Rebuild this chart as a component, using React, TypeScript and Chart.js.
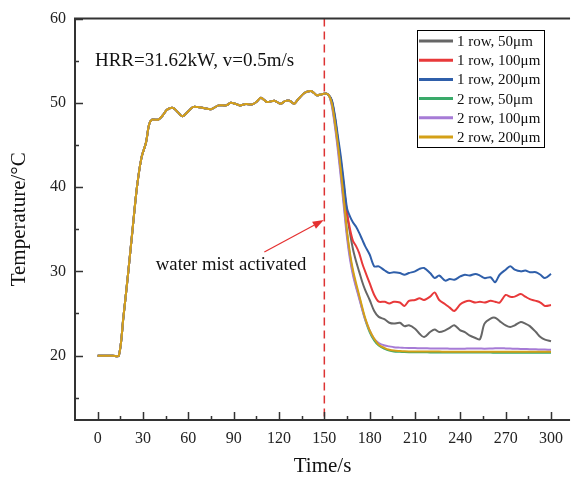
import React, { useEffect, useRef } from 'react';
import { Chart, registerables } from 'chart.js';

Chart.register(...registerables);

// Shared curve before water mist activation (all six series coincide)
const preTimes = [0, 5, 10, 14, 17, 20, 23, 26, 29, 32, 34, 36, 40, 43, 46, 50, 53, 56, 60, 63, 66, 70, 75, 80, 85, 88, 91, 94, 98, 102, 105, 108, 112, 117, 121, 124, 127, 130, 133, 137, 141, 143, 145, 148, 151, 153];
const preTemps = [20, 20, 20, 20, 24.5, 29.5, 34.8, 40, 43.5, 45.3, 47.4, 48, 48, 48.5, 49.2, 49.4, 48.9, 48.4, 49, 49.5, 49.5, 49.4, 49.25, 49.7, 49.7, 50, 49.9, 49.7, 49.85, 49.8, 50.1, 50.6, 50.1, 50.25, 49.9, 50.2, 50.25, 49.9, 50.5, 51.2, 51.4, 51.2, 50.9, 51.0, 51.1, 50.9];

// After activation
const postTimes = [155, 157, 159, 161, 163, 165, 167, 169, 171, 173, 175, 177, 180, 183, 186, 190, 193, 196, 200, 203, 206, 210, 213, 216, 220, 223, 226, 230, 233, 236, 240, 243, 246, 250, 253, 256, 260, 263, 266, 270, 273, 276, 280, 283, 286, 290, 293, 296, 300];

const row1um50 = [50.2, 48.2, 45.5, 42.8, 39.8, 36.8, 34.5, 32.6, 31.2, 30.0, 28.8, 27.8, 26.6, 25.3, 24.6, 24.3, 23.9, 23.8, 23.9, 23.5, 23.6, 23.2, 22.6, 22.2, 22.8, 23.1, 22.8, 23.0, 23.3, 23.6, 23.0, 22.8, 22.4, 22.1, 21.95, 23.8, 24.4, 24.5, 24.1, 23.6, 23.4, 23.6, 24.0, 23.8, 23.5, 22.8, 22.2, 21.9, 21.7];
const row1um100 = [50.2, 48.2, 45.5, 43, 40, 37, 35, 33.6, 33, 32.2, 31, 30, 28.6, 27.2, 26.4, 26.4, 26.2, 26.4, 26.3, 25.9, 26.5, 26.6, 26.8, 26.6, 27.0, 27.5, 26.6, 26.1, 25.7, 25.3, 26.1, 26.4, 26.5, 26.3, 26.4, 26.3, 26.5, 26.4, 26.3, 27.2, 27.0, 27.0, 27.3, 27.0, 26.7, 26.5, 26.3, 25.9, 26.0];
const row1um200 = [50.3, 48.5, 46, 43.5, 40.5, 37.5, 36.5, 35.8, 35.3, 34.6, 33.8, 33, 32, 30.6, 30.6, 30.1, 29.8, 29.9, 29.8, 29.6, 29.8, 30.0, 30.3, 30.4, 29.8, 29.2, 29.5, 28.9, 29.1, 29.0, 29.4, 29.6, 29.5, 29.7, 29.5, 29.2, 29.3, 28.7, 29.6, 30.2, 30.6, 30.2, 30.0, 30.1, 29.9, 29.9, 29.6, 29.2, 29.7];
const row2um50 = [49.8, 47.5, 44.8, 41.5, 38, 34.5, 31.8, 29.8, 28.3, 27, 25.6, 24.3, 22.8, 21.8, 21.2, 20.8, 20.6, 20.5, 20.45, 20.42, 20.4, 20.4, 20.4, 20.4, 20.38, 20.38, 20.38, 20.38, 20.37, 20.37, 20.37, 20.36, 20.36, 20.36, 20.36, 20.36, 20.36, 20.35, 20.35, 20.35, 20.35, 20.35, 20.35, 20.35, 20.35, 20.35, 20.35, 20.35, 20.35];
const row2um100 = [49.6, 47.2, 44.3, 41, 37.5, 34, 31.4, 29.5, 28.1, 26.8, 25.5, 24.3, 23, 22, 21.5, 21.2, 21.1, 21.0, 20.95, 20.92, 20.9, 20.9, 20.88, 20.87, 20.86, 20.85, 20.85, 20.84, 20.83, 20.82, 20.82, 20.83, 20.85, 20.85, 20.84, 20.83, 20.85, 20.87, 20.88, 20.86, 20.84, 20.82, 20.8, 20.78, 20.76, 20.75, 20.73, 20.72, 20.7];
const row2um200 = [49.9, 47.7, 45, 41.8, 38.3, 34.8, 32.1, 30.1, 28.6, 27.2, 25.8, 24.5, 23, 22, 21.3, 20.9, 20.7, 20.6, 20.55, 20.52, 20.5, 20.5, 20.5, 20.5, 20.48, 20.48, 20.48, 20.47, 20.47, 20.47, 20.47, 20.46, 20.46, 20.46, 20.46, 20.46, 20.46, 20.46, 20.46, 20.46, 20.45, 20.45, 20.45, 20.45, 20.45, 20.45, 20.45, 20.45, 20.45];

const seriesLabels = ['1 row, 50μm', '1 row, 100μm', '1 row, 200μm', '2 row, 50μm', '2 row, 100μm', '2 row, 200μm'];
const seriesValues = [row1um50, row1um100, row1um200, row2um50, row2um100, row2um200];
const seriesColors = ['#666666', '#e8393a', '#2f5faa', '#3aaa6a', '#a67bd6', '#d4a017'];

const xTicks = [0, 30, 60, 90, 120, 150, 180, 210, 240, 270, 300];
const xMinorTicks = [15, 45, 75, 105, 135, 165, 195, 225, 255, 285];
const yTicks = [20, 30, 40, 50, 60];
const yMinorTicks = [15, 25, 35, 45, 55];

const activationTime = 150;
const arrowFrom = { x: 110.3, y: 32.3 };
const arrowTo = { x: 149.6, y: 36.1 };
const arrowText = { x: 38.5, y: 30.8, text: 'water mist activated' };
const infoText = { x: -1.8, y: 55.0, text: 'HRR=31.62kW, v=0.5m/s' };

const SERIF = '"Liberation Serif", "DejaVu Serif", serif';

const decorPlugin = {
  id: 'decor',
  afterDatasetsDraw(chart: any) {
    const { ctx, chartArea: ca, scales } = chart;
    const x = scales.x;
    const y = scales.y;
    ctx.save();
    // dashed activation line
    const xa = x.getPixelForValue(activationTime);
    ctx.strokeStyle = '#dd3333';
    ctx.lineWidth = 1.5;
    ctx.setLineDash([8, 5]);
    ctx.beginPath();
    ctx.moveTo(xa, ca.top);
    ctx.lineTo(xa, ca.bottom);
    ctx.stroke();
    ctx.setLineDash([]);

    // arrow
    const x1 = x.getPixelForValue(arrowFrom.x), y1 = y.getPixelForValue(arrowFrom.y);
    const x2 = x.getPixelForValue(arrowTo.x), y2 = y.getPixelForValue(arrowTo.y);
    const ang = Math.atan2(y2 - y1, x2 - x1);
    const hl = 11, hw = 4;
    const bx = x2 - hl * Math.cos(ang), by = y2 - hl * Math.sin(ang);
    ctx.strokeStyle = '#e53030';
    ctx.fillStyle = '#e53030';
    ctx.lineWidth = 1.2;
    ctx.beginPath();
    ctx.moveTo(x1, y1);
    ctx.lineTo(bx, by);
    ctx.stroke();
    ctx.beginPath();
    ctx.moveTo(x2, y2);
    ctx.lineTo(bx + hw * Math.sin(ang), by - hw * Math.cos(ang));
    ctx.lineTo(bx - hw * Math.sin(ang), by + hw * Math.cos(ang));
    ctx.closePath();
    ctx.fill();

    // texts
    ctx.fillStyle = '#111';
    ctx.textBaseline = 'middle';
    ctx.textAlign = 'left';
    ctx.font = `18.7px ${SERIF}`;
    ctx.fillText(arrowText.text, x.getPixelForValue(arrowText.x), y.getPixelForValue(arrowText.y));
    ctx.font = `19px ${SERIF}`;
    ctx.fillText(infoText.text, x.getPixelForValue(infoText.x), y.getPixelForValue(infoText.y));
    ctx.restore();
  },
  afterDraw(chart: any) {
    const { ctx, chartArea: ca, scales } = chart;
    const x = scales.x;
    const y = scales.y;
    ctx.save();
    // axes frame (left, bottom, top)
    ctx.strokeStyle = '#333';
    ctx.lineWidth = 2;
    ctx.beginPath();
    ctx.moveTo(ca.right, ca.top);
    ctx.lineTo(ca.left, ca.top);
    ctx.lineTo(ca.left, ca.bottom);
    ctx.lineTo(ca.right, ca.bottom);
    ctx.stroke();
    // ticks pointing inward
    ctx.lineWidth = 1.5;
    ctx.beginPath();
    xTicks.forEach((v) => {
      const px = Math.round(x.getPixelForValue(v)) + 0.5;
      ctx.moveTo(px, ca.bottom);
      ctx.lineTo(px, ca.bottom - 8);
    });
    xMinorTicks.forEach((v) => {
      const px = Math.round(x.getPixelForValue(v)) + 0.5;
      ctx.moveTo(px, ca.bottom);
      ctx.lineTo(px, ca.bottom - 4);
    });
    yTicks.forEach((v) => {
      const py = Math.round(y.getPixelForValue(v)) + 0.5;
      ctx.moveTo(ca.left, py);
      ctx.lineTo(ca.left + 8, py);
    });
    yMinorTicks.forEach((v) => {
      const py = Math.round(y.getPixelForValue(v)) + 0.5;
      ctx.moveTo(ca.left, py);
      ctx.lineTo(ca.left + 4, py);
    });
    ctx.stroke();

    // legend box
    const lx = 417, ly = 30, lw = 127, lh = 117;
    ctx.fillStyle = '#fff';
    ctx.fillRect(lx, ly, lw, lh);
    ctx.strokeStyle = '#000';
    ctx.lineWidth = 1;
    ctx.strokeRect(lx + 0.5, ly + 0.5, lw, lh);
    ctx.font = `15px ${SERIF}`;
    ctx.textBaseline = 'middle';
    ctx.textAlign = 'left';
    seriesLabels.forEach((lab, i) => {
      const cy = ly + 11 + i * 19.2;
      ctx.strokeStyle = seriesColors[i];
      ctx.lineWidth = 3;
      ctx.beginPath();
      ctx.moveTo(lx + 2, cy);
      ctx.lineTo(lx + 36, cy);
      ctx.stroke();
      ctx.fillStyle = '#111';
      ctx.fillText(lab, lx + 40, cy + 1);
    });
    ctx.restore();
  },
};

export default function App() {
  const ref = useRef<HTMLCanvasElement | null>(null);
  useEffect(() => {
    document.body.style.margin = '0';
    if (!ref.current) return;
    const datasets = seriesLabels.map((label, i) => ({
      label,
      data: [
        ...preTimes.map((t, k) => ({ x: t, y: preTemps[k] })),
        ...postTimes.map((t, k) => ({ x: t, y: seriesValues[i][k] })),
      ],
      borderColor: seriesColors[i],
      backgroundColor: seriesColors[i],
      borderWidth: 2,
      pointRadius: 0,
      tension: 0.3,
      fill: false,
      order: seriesLabels.length - i,
    }));
    const chart = new Chart(ref.current, {
      type: 'line',
      data: { datasets },
      options: {
        animation: false,
        responsive: false,
        devicePixelRatio: 1,
        layout: { padding: { top: 14, left: 0, right: 0, bottom: 0 } },
        plugins: { legend: { display: false }, tooltip: { enabled: false } },
        scales: {
          x: {
            type: 'linear',
            min: -15,
            max: 312.6,
            grid: { display: false, drawTicks: false },
            border: { display: false },
            afterBuildTicks: (s: any) => { s.ticks = xTicks.map((v) => ({ value: v })); },
            afterFit: (s: any) => { s.height = 61; },
            ticks: { padding: 9, color: '#222', font: { family: SERIF, size: 16 }, maxRotation: 0, autoSkip: false },
            title: { display: true, text: 'Time/s', color: '#111', font: { family: SERIF, size: 21 }, padding: { top: 0, bottom: 1.5 } },
          },
          y: {
            type: 'linear',
            min: 12.36,
            max: 60,
            grid: { display: false, drawTicks: false },
            border: { display: false },
            afterBuildTicks: (s: any) => { s.ticks = yTicks.map((v) => ({ value: v })); },
            afterFit: (s: any) => { s.width = 75; },
            ticks: { padding: 9, color: '#222', font: { family: SERIF, size: 16 } },
            title: { display: true, text: 'Temperature/°C', color: '#111', font: { family: SERIF, size: 21 }, padding: { top: 7, bottom: 0 } },
          },
        },
      },
      plugins: [decorPlugin],
    });
    return () => chart.destroy();
  }, []);
  return (
    <div style={{ width: 572, height: 481, background: '#fff' }}>
      <canvas ref={ref} width={572} height={481} style={{ display: 'block' }} />
    </div>
  );
}
